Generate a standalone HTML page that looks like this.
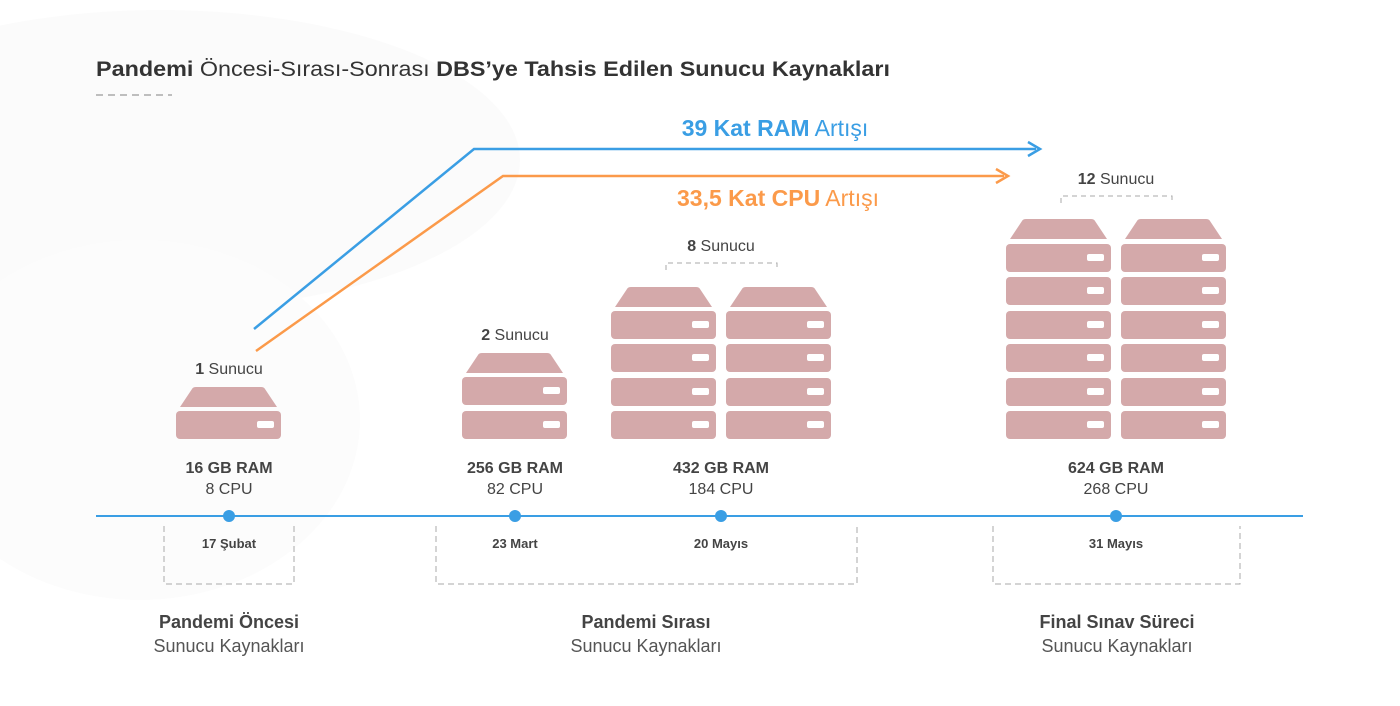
<!DOCTYPE html>
<html><head><meta charset="utf-8"><style>
body{margin:0;background:#fff}
svg{display:block}
text{font-family:"Liberation Sans",sans-serif}
</style></head><body>
<svg width="1400" height="706" viewBox="0 0 1400 706" xmlns="http://www.w3.org/2000/svg">
<defs>
<g id="top"><path d="M4,20 L16,2 Q17,0 20,0 L85,0 Q88,0 89,2 L101,20 Z" fill="#d4a9aa"/></g>
<g id="box"><rect x="0" y="0" width="105" height="28" rx="4" fill="#d4a9aa"/><rect x="81" y="10" width="17" height="7" rx="2" fill="#fff"/></g>
</defs>
<ellipse cx="160" cy="160" rx="360" ry="150" fill="#fbfbfb"/>
<ellipse cx="140" cy="420" rx="220" ry="180" fill="#fcfcfc"/>
<text x="96" y="76" font-size="21" fill="#333" textLength="794" lengthAdjust="spacingAndGlyphs"><tspan font-weight="bold">Pandemi</tspan> Öncesi-Sırası-Sonrası <tspan font-weight="bold">DBS’ye Tahsis Edilen Sunucu Kaynakları</tspan></text>
<line x1="96" y1="95" x2="172" y2="95" stroke="#aaa" stroke-width="1.5" stroke-dasharray="7,5"/>
<polyline points="254,329 474,149 1036,149" fill="none" stroke="#3a9ee4" stroke-width="2.5"/>
<path d="M1028,142 L1040,149 L1028,156" fill="none" stroke="#3a9ee4" stroke-width="2.5"/>
<polyline points="256,351 503,176 1004,176" fill="none" stroke="#fb9a4a" stroke-width="2.5"/>
<path d="M996,169 L1008,176 L996,183" fill="none" stroke="#fb9a4a" stroke-width="2.5"/>
<text x="775" y="136" font-size="23" fill="#3a9ee4" text-anchor="middle"><tspan font-weight="bold">39 Kat RAM</tspan> Artışı</text>
<text x="778" y="206" font-size="23" fill="#fb9a4a" text-anchor="middle"><tspan font-weight="bold">33,5 Kat CPU</tspan> Artışı</text>
<text x="229" y="374" font-size="16" fill="#444" text-anchor="middle"><tspan font-weight="bold">1</tspan> Sunucu</text>
<use href="#top" x="176" y="387"/><use href="#box" x="176" y="411"/>
<text x="515" y="340" font-size="16" fill="#444" text-anchor="middle"><tspan font-weight="bold">2</tspan> Sunucu</text>
<use href="#top" x="462" y="353"/><use href="#box" x="462" y="377"/><use href="#box" x="462" y="411"/>
<text x="721" y="251" font-size="16" fill="#444" text-anchor="middle"><tspan font-weight="bold">8</tspan> Sunucu</text>
<path d="M666,270 V263 H777 V270" fill="none" stroke="#aaa" stroke-dasharray="5,4"/>
<use href="#top" x="611" y="287"/><use href="#box" x="611" y="311"/><use href="#box" x="611" y="344"/><use href="#box" x="611" y="378"/><use href="#box" x="611" y="411"/>
<use href="#top" x="726" y="287"/><use href="#box" x="726" y="311"/><use href="#box" x="726" y="344"/><use href="#box" x="726" y="378"/><use href="#box" x="726" y="411"/>
<text x="1116" y="184" font-size="16" fill="#444" text-anchor="middle"><tspan font-weight="bold">12</tspan> Sunucu</text>
<path d="M1061,203 V196 H1172 V203" fill="none" stroke="#aaa" stroke-dasharray="5,4"/>
<use href="#top" x="1006" y="219"/><use href="#box" x="1006" y="244"/><use href="#box" x="1006" y="277"/><use href="#box" x="1006" y="311"/><use href="#box" x="1006" y="344"/><use href="#box" x="1006" y="378"/><use href="#box" x="1006" y="411"/>
<use href="#top" x="1121" y="219"/><use href="#box" x="1121" y="244"/><use href="#box" x="1121" y="277"/><use href="#box" x="1121" y="311"/><use href="#box" x="1121" y="344"/><use href="#box" x="1121" y="378"/><use href="#box" x="1121" y="411"/>
<g font-size="16" fill="#444" text-anchor="middle">
<text x="229" y="473" font-weight="bold">16 GB RAM</text><text x="229" y="494">8 CPU</text>
<text x="515" y="473" font-weight="bold">256 GB RAM</text><text x="515" y="494">82 CPU</text>
<text x="721" y="473" font-weight="bold">432 GB RAM</text><text x="721" y="494">184 CPU</text>
<text x="1116" y="473" font-weight="bold">624 GB RAM</text><text x="1116" y="494">268 CPU</text>
</g>
<line x1="96" y1="516" x2="1303" y2="516" stroke="#3a9ee4" stroke-width="2"/>
<g fill="#3a9ee4"><circle cx="229" cy="516" r="6"/><circle cx="515" cy="516" r="6"/><circle cx="721" cy="516" r="6"/><circle cx="1116" cy="516" r="6"/></g>
<g fill="none" stroke="#aaa" stroke-dasharray="6,4">
<path d="M164,526 V584 H294 V526"/>
<path d="M436,526 V584 H857 V526"/>
<path d="M993,526 V584 H1240 V526"/>
</g>
<g font-size="13" font-weight="bold" fill="#444" text-anchor="middle">
<text x="229" y="548">17 Şubat</text><text x="515" y="548">23 Mart</text><text x="721" y="548">20 Mayıs</text><text x="1116" y="548">31 Mayıs</text>
</g>
<g font-size="18" fill="#444" text-anchor="middle">
<text x="229" y="628" font-weight="bold">Pandemi Öncesi</text><text x="229" y="652" fill="#555">Sunucu Kaynakları</text>
<text x="646" y="628" font-weight="bold">Pandemi Sırası</text><text x="646" y="652" fill="#555">Sunucu Kaynakları</text>
<text x="1117" y="628" font-weight="bold">Final Sınav Süreci</text><text x="1117" y="652" fill="#555">Sunucu Kaynakları</text>
</g>
</svg>
</body></html>
